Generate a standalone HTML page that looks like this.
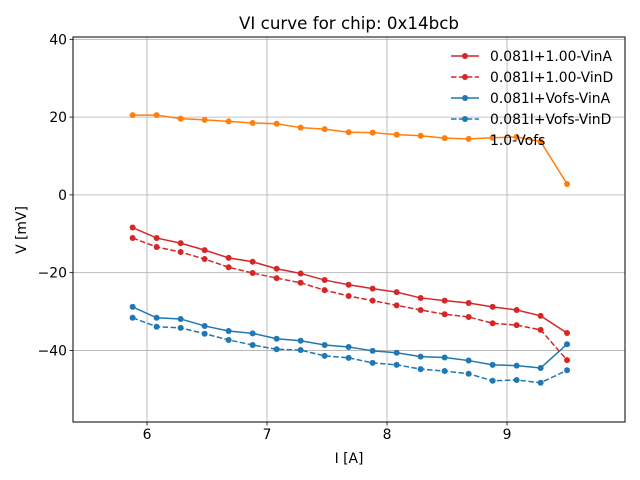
<!DOCTYPE html>
<html><head><meta charset="utf-8"><style>
body{margin:0;background:#fff}
svg{display:block;font-family:"DejaVu Sans","Liberation Sans",sans-serif}
</style></head><body>
<svg id="chart" width="640" height="480">
<text x="349" y="29" font-size="16.7" text-anchor="middle">VI curve for chip: 0x14bcb</text>
<text x="349" y="463" font-size="13.9" text-anchor="middle">I [A]</text>
<text x="26" y="230" font-size="13.9" text-anchor="middle" transform="rotate(-90 26 230)">V [mV]</text>
<g id="grid"></g><g id="ticks"></g><g id="series"></g>
<rect x="73" y="37" width="552" height="385" fill="none" stroke="#000" stroke-width="1"/>
<g id="legend"></g>
</svg>
<script>
const xs = [5.88,6.08,6.28,6.48,6.68,6.88,7.08,7.28,7.48,7.68,7.88,8.08,8.28,8.48,8.68,8.88,9.08,9.28,9.5];
const redA = [-8.4,-11.1,-12.4,-14.2,-16.2,-17.2,-19.0,-20.2,-21.9,-23.1,-24.1,-25.0,-26.5,-27.2,-27.8,-28.8,-29.6,-31.1,-35.5];
const redD = [-11.1,-13.4,-14.7,-16.5,-18.6,-20.1,-21.4,-22.6,-24.5,-26.0,-27.2,-28.4,-29.6,-30.7,-31.4,-33.0,-33.5,-34.7,-42.5];
const blueA = [-28.8,-31.6,-31.9,-33.7,-35.0,-35.6,-37.0,-37.5,-38.6,-39.1,-40.1,-40.6,-41.6,-41.8,-42.6,-43.7,-43.9,-44.5,-38.4];
const blueD = [-31.6,-33.9,-34.2,-35.7,-37.3,-38.6,-39.7,-39.9,-41.4,-41.9,-43.2,-43.7,-44.8,-45.3,-46.0,-47.8,-47.6,-48.3,-45.1];
const orange = [20.5,20.5,19.6,19.3,18.9,18.5,18.3,17.3,16.9,16.1,16.0,15.5,15.2,14.6,14.4,14.7,14.9,13.7,2.8];
const xTicks = [6,7,8,9];
const yTicks = [-40,-20,0,20,40];
const seriesNames = ["0.081I+1.00-VinA","0.081I+1.00-VinD","0.081I+Vofs-VinA","0.081I+Vofs-VinD","1.0-Vofs"];

const NS="http://www.w3.org/2000/svg";
const L=73,R=625,T=37,B=422;
const xmin=5.383,xmax=9.983,ymin=-58.4,ymax=40.6;
const sx=v=>L+(v-xmin)/(xmax-xmin)*(R-L);
const sy=v=>B-(v-ymin)/(ymax-ymin)*(B-T);
function mk(tag,attrs,parent){const e=document.createElementNS(NS,tag);for(const k in attrs)e.setAttribute(k,attrs[k]);parent.appendChild(e);return e;}
const grid=document.getElementById('grid'),ticks=document.getElementById('ticks'),ser=document.getElementById('series'),leg=document.getElementById('legend');
xTicks.forEach(t=>{const x=sx(t);
 const g=mk('line',{x1:x,x2:x,y1:T,y2:B,stroke:'#b0b0b0','stroke-width':0.8},grid);
 
 mk('line',{x1:x,x2:x,y1:B,y2:B+3.5,stroke:'#000','stroke-width':0.8},ticks);
 const tx=mk('text',{x:x,y:B+17,'font-size':13.9,'text-anchor':'middle'},ticks);tx.textContent=t;
 });
yTicks.forEach(t=>{const y=sy(t);
 const g=mk('line',{x1:L,x2:R,y1:y,y2:y,stroke:'#b0b0b0','stroke-width':0.8},grid);
 
 mk('line',{x1:L-3.5,x2:L,y1:y,y2:y,stroke:'#000','stroke-width':0.8},ticks);
 const tx=mk('text',{x:L-6,y:y+5,'font-size':13.9,'text-anchor':'end'},ticks);tx.textContent=(t<0?'\u2212'+(-t):t);
 });
const defs=[[redA,'#d62728',''],[redD,'#d62728','5.5,2.4'],[blueA,'#1f77b4',''],[blueD,'#1f77b4','5.5,2.4'],[orange,'#ff7f0e','']];
defs.forEach((d,i)=>{const g=mk('g',{},ser);
 
 const pts=xs.map((x,j)=>sx(x)+','+sy(d[0][j])).join(' ');
 mk('polyline',{points:pts,fill:'none',stroke:d[1],'stroke-width':1.5,'stroke-dasharray':d[2]||'none'},g);
 xs.forEach((x,j)=>{const c=mk('circle',{cx:sx(x),cy:sy(d[0][j]),r:3,fill:d[1]},g);
  });});
defs.forEach((d,i)=>{const y=56+i*21;
 if(i<4){mk('line',{x1:451,x2:479,y1:y,y2:y,stroke:d[1],'stroke-width':1.5,'stroke-dasharray':d[2]||'none'},leg);
 mk('circle',{cx:465,cy:y,r:3,fill:d[1]},leg);}
 const tx=mk('text',{x:490,y:y+5,'font-size':13.9},leg);tx.textContent=seriesNames[i];
 });
</script>
</body></html>
